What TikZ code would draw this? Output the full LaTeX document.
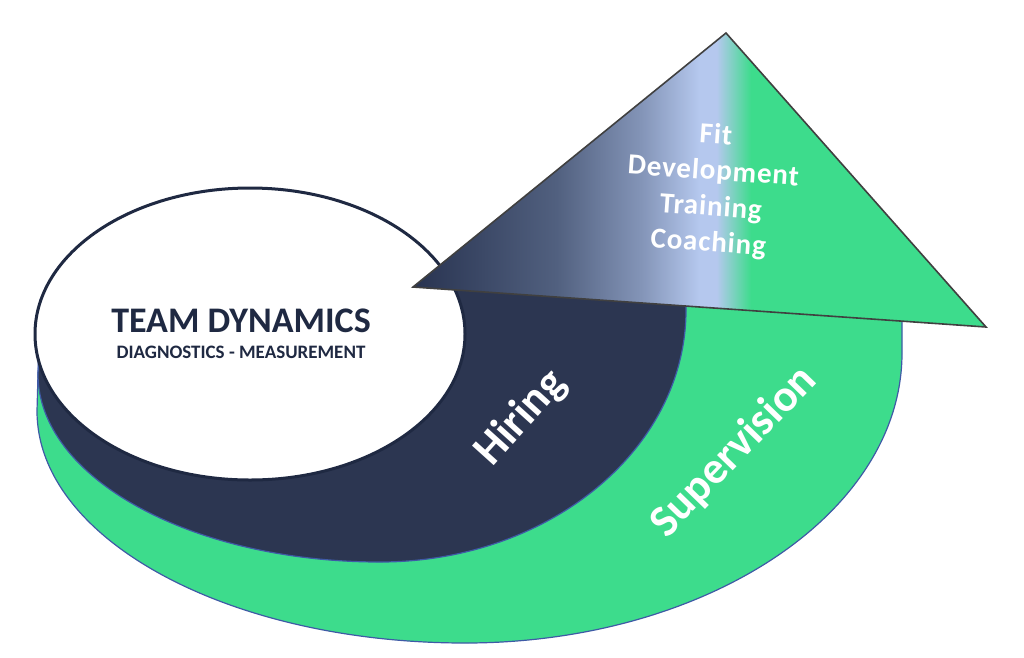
\documentclass[tikz,border=0pt]{standalone}
\usepackage{fontspec}
\setmainfont{Carlito}
\usetikzlibrary{positioning}

\definecolor{navyband}{HTML}{2C3651}
\definecolor{greenband}{HTML}{3DDC8C}
\definecolor{rimblue}{HTML}{3F5AA6}
\definecolor{inkdark}{HTML}{1F2942}
\definecolor{edgegray}{HTML}{404040}
\definecolor{shadeA}{HTML}{283350}
\definecolor{shadeB}{HTML}{51607F}
\definecolor{shadeC}{HTML}{8495B8}
\definecolor{shadeD}{HTML}{B5C8EE}

\pgfdeclarehorizontalshading{arrowshade}{100bp}{color(0bp)=(shadeA); color(25bp)=(shadeA);
  color(37.5bp)=(shadeB); color(45bp)=(shadeC); color(50bp)=(shadeD); color(51.5bp)=(shadeD);
  color(54.5bp)=(greenband); color(100bp)=(greenband)}

\begin{document}
\begin{tikzpicture}[
    x=1pt, y=-1pt,
    band/.style={draw=rimblue, line width=1.2pt},
    hub/.style={draw=inkdark, line width=3pt, fill=white},
    pointer/.style={draw=edgegray, line width=1.6pt, shading=arrowshade, line join=miter},
    ringLabel/.style={text=white, font=\fontsize{45}{50}\selectfont\bfseries},
    tipLabel/.style={text=white, align=center,
        font=\fontsize{29}{36}\selectfont\bfseries\addfontfeature{LetterSpace=3}},
    hubTitle/.style={text=inkdark, font=\fontsize{36}{40}\selectfont\bfseries},
    hubSub/.style={text=inkdark, font=\fontsize{19}{22}\selectfont\bfseries}
]
\useasboundingbox (0,0) rectangle (1024,657);

% Outer band
\draw[band, fill=greenband] (40,300) -- (37,411)
    arc[start angle=180, end angle=90, x radius=428, y radius=232]
    arc[start angle=90, end angle=0, x radius=437, y radius=290]
    -- (902,300) -- (700,280) -- (440,280) -- (440,300) -- cycle;

% Inner band
\draw[band, fill=navyband] (42,300) -- (38,374)
    arc[start angle=180, end angle=90, x radius=342, y radius=188]
    arc[start angle=90, end angle=0, x radius=306, y radius=252]
    -- (686,280) -- (440,280) -- (440,300) -- cycle;

% Hub
\draw[hub] (250,334) ellipse [x radius=215, y radius=146];

% Arrow tip
\draw[pointer] (726,33) -- (986,327) -- (413,287) -- cycle;

% Labels
\node[hubTitle] (title) at (241,321) {TEAM DYNAMICS};
\node[hubSub] (sub) at (241,352) {DIAGNOSTICS - MEASUREMENT};
\node[ringLabel, rotate=48] (hiring) at (521,418) {Hiring};
\node[ringLabel, rotate=46] (supervision) at (734,452) {Supervision};
\node[tipLabel, rotate=-4] (steps) at (712,190) {Fit\\Development\\Training\\Coaching};

\end{tikzpicture}
\end{document}
